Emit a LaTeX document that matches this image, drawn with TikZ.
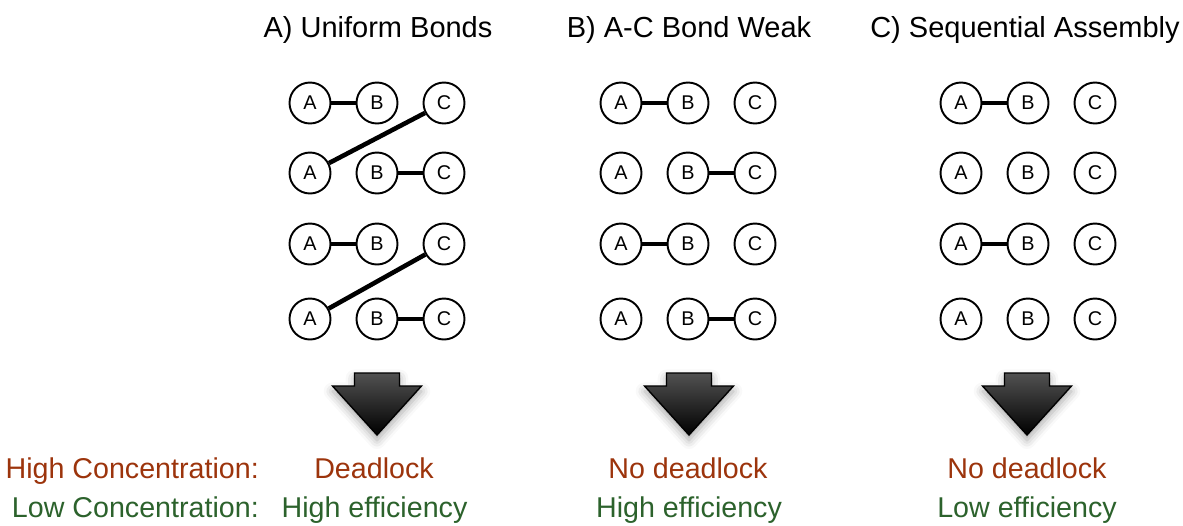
\documentclass[tikz,border=0pt]{standalone}
\usepackage{fontspec}
\setmainfont{Liberation Sans}
\usetikzlibrary{positioning,shadows.blur}

\definecolor{highred}{RGB}{156,52,12}
\definecolor{lowgreen}{RGB}{44,98,44}

\begin{document}
\begin{tikzpicture}[
		node distance=1.34cm,
		on grid,
		atom/.style={circle, draw, line width=1.1pt, minimum size=0.82cm, inner sep=0pt,
				font=\fontsize{11.3}{13}\selectfont},
		bond/.style={line width=2.6pt},
		heading/.style={anchor=base, font=\fontsize{16.5}{20}\selectfont},
		outcome/.style={anchor=base, font=\fontsize{16.3}{20}\selectfont, text=#1},
		outcome/.default=black,
		downarrow/.pic={
				\draw[line width=0.8pt, top color=black!68, bottom color=black,
					blur shadow={shadow xshift=0pt, shadow yshift=-3pt, shadow blur radius=5pt, shadow opacity=35}]
				(-0.45,0) -- (0.45,0) -- (0.45,-0.26) -- (0.89,-0.26) -- (0,-1.24)
				-- (-0.89,-0.26) -- (-0.45,-0.26) -- cycle;
			}
	]

	\useasboundingbox (0,0) rectangle (23.66,-10.5);

	% headings
	\node[heading] (titleA) at (7.56,-0.74) {A) Uniform Bonds};
	\node[heading] (titleB) at (13.78,-0.74) {B) A-C Bond Weak};
	\node[heading] (titleC) at (20.50,-0.74) {C) Sequential Assembly};

	% A) uniform bonds
	\node[atom] (ua1) at (6.20,-2.06) {A};
	\node[atom, right=of ua1] (ub1) {B} edge[bond] (ua1);
	\node[atom, right=of ub1] (uc1) {C};
	\node[atom] (ua2) at (6.20,-3.46) {A} edge[bond] (uc1);
	\node[atom, right=of ua2] (ub2) {B};
	\node[atom, right=of ub2] (uc2) {C} edge[bond] (ub2);
	\node[atom] (ua3) at (6.20,-4.88) {A};
	\node[atom, right=of ua3] (ub3) {B} edge[bond] (ua3);
	\node[atom, right=of ub3] (uc3) {C};
	\node[atom] (ua4) at (6.20,-6.38) {A} edge[bond] (uc3);
	\node[atom, right=of ua4] (ub4) {B};
	\node[atom, right=of ub4] (uc4) {C} edge[bond] (ub4);

	% B) A-C bond weak
	\node[atom] (wa1) at (12.42,-2.06) {A};
	\node[atom, right=of wa1] (wb1) {B} edge[bond] (wa1);
	\node[atom, right=of wb1] (wc1) {C};
	\node[atom] (wa2) at (12.42,-3.46) {A};
	\node[atom, right=of wa2] (wb2) {B};
	\node[atom, right=of wb2] (wc2) {C} edge[bond] (wb2);
	\node[atom] (wa3) at (12.42,-4.88) {A};
	\node[atom, right=of wa3] (wb3) {B} edge[bond] (wa3);
	\node[atom, right=of wb3] (wc3) {C};
	\node[atom] (wa4) at (12.42,-6.38) {A};
	\node[atom, right=of wa4] (wb4) {B};
	\node[atom, right=of wb4] (wc4) {C} edge[bond] (wb4);

	% C) sequential assembly
	\node[atom] (sa1) at (19.22,-2.06) {A};
	\node[atom, right=of sa1] (sb1) {B} edge[bond] (sa1);
	\node[atom, right=of sb1] (sc1) {C};
	\node[atom] (sa2) at (19.22,-3.46) {A};
	\node[atom, right=of sa2] (sb2) {B};
	\node[atom, right=of sb2] (sc2) {C};
	\node[atom] (sa3) at (19.22,-4.88) {A};
	\node[atom, right=of sa3] (sb3) {B} edge[bond] (sa3);
	\node[atom, right=of sb3] (sc3) {C};
	\node[atom] (sa4) at (19.22,-6.38) {A};
	\node[atom, right=of sa4] (sb4) {B};
	\node[atom, right=of sb4] (sc4) {C};

	% big arrows
	\pic at (7.54,-7.46) {downarrow};
	\pic at (13.78,-7.46) {downarrow};
	\pic at (20.54,-7.46) {downarrow};

	% outcomes
	\node[outcome=highred, anchor=base east] (highlabel) at (5.30,-9.56) {High Concentration:};
	\node[outcome=lowgreen, anchor=base east] (lowlabel) at (5.30,-10.34) {Low Concentration:};
	\node[outcome=highred] (highA) at (7.48,-9.56) {Deadlock};
	\node[outcome=lowgreen] (lowA) at (7.49,-10.34) {High efficiency};
	\node[outcome=highred] (highB) at (13.76,-9.56) {No deadlock};
	\node[outcome=lowgreen] (lowB) at (13.78,-10.34) {High efficiency};
	\node[outcome=highred] (highC) at (20.54,-9.56) {No deadlock};
	\node[outcome=lowgreen] (lowC) at (20.54,-10.34) {Low efficiency};
\end{tikzpicture}
\end{document}
